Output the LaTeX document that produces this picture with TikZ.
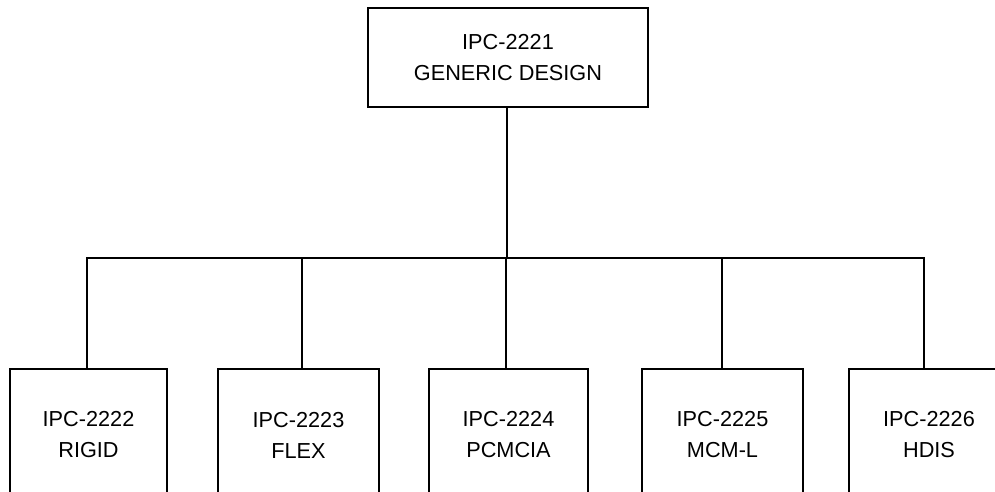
\documentclass[tikz,border=0pt]{standalone}
\usepackage{fontspec}
\setmainfont{Liberation Sans}
\begin{document}
\begin{tikzpicture}[x=1pt,y=-1pt,
  line width=1.8pt, line join=miter,
  box/.style={draw=black, line width=1.8pt, inner sep=0pt, align=center,
    font=\fontsize{21.7}{31}\selectfont},
  topbox/.style={box, minimum width=280pt, minimum height=99pt},
  childbox/.style={box, minimum width=159pt, minimum height=132pt},
  conn/.style={draw=black, line width=1.8pt}]
\useasboundingbox (0,0) rectangle (995,491);
\clip (0,0) rectangle (995,491);
\fill[white] (0,0) rectangle (995,491);
\node[topbox] (top) at (508,57.5) {IPC-2221\\GENERIC DESIGN};
\node[childbox, minimum width=157pt] (c1) at (88.5,435) {IPC-2222\\RIGID};
\node[childbox, minimum width=161pt] (c2) at (298.5,435) {IPC-2223\\FLEX};
\node[childbox] (c3) at (508.5,435) {IPC-2224\\PCMCIA};
\node[childbox, minimum width=161pt] (c4) at (722.5,435) {IPC-2225\\MCM-L};
\node[childbox, minimum width=160pt] (c5) at (929,435) {IPC-2226\\HDIS};
\coordinate (bus) at (507,258);
\draw[conn] ([xshift=-1pt]top.south) -- ([xshift=-1pt]top.south |- bus);
\draw[conn] ([xshift=-1.5pt]c1.north) |- (bus);
\draw[conn] ([xshift=3.5pt]c2.north) |- (bus);
\draw[conn] ([xshift=-2.5pt]c3.north) -- ([xshift=-2.5pt]c3.north |- bus);
\draw[conn] ([xshift=-0.5pt]c4.north) |- (bus);
\draw[conn] ([xshift=-5pt]c5.north) |- (bus);
\end{tikzpicture}
\end{document}
